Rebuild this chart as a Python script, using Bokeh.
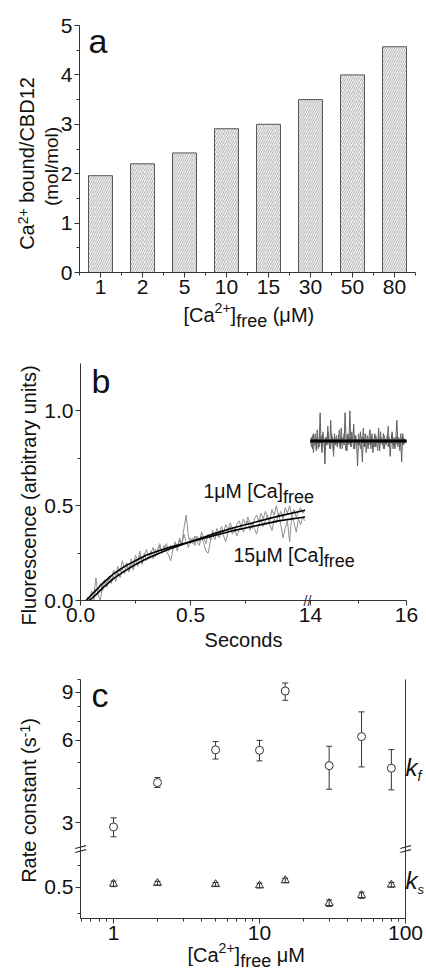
import numpy as np
from bokeh.plotting import figure
from bokeh.layouts import column
from bokeh.models import (ColumnDataSource, FixedTicker, Label, LinearAxis, LogAxis,
                          Range1d, TeeHead, Whisker)
from bokeh.embed import file_html
from bokeh.resources import INLINE

FONT = "Liberation Sans"
INK = "#111111"
AXIS = "#333333"

# ---------------- panel a : Ca2+ bound per CBD12 ----------------
a_categories = ["1", "2", "5", "10", "15", "30", "50", "80"]
a_ca_bound = [1.96, 2.20, 2.42, 2.91, 3.00, 3.50, 4.00, 4.57]
a_yticks = [0, 1, 2, 3, 4, 5]

# ---------------- panel b : fluorescence traces ----------------
b_t_start = 0.03
b_t_step = 0.01
b_trace_1uM = [0.00, 0.01, 0.03, 0.00, 0.06, 0.04, 0.09, 0.05, 0.10, 0.07,
               0.12, 0.09, 0.13, 0.10, 0.15, 0.12, 0.17, 0.14, 0.19, 0.15,
               0.20, 0.16, 0.22, 0.18, 0.24, 0.19, 0.25, 0.21, 0.23, 0.26,
               0.22, 0.27, 0.24, 0.29, 0.25, 0.27, 0.30, 0.26, 0.29, 0.27,
               0.31, 0.28, 0.33, 0.30, 0.38, 0.45, 0.34, 0.30, 0.33, 0.29,
               0.34, 0.31, 0.36, 0.33, 0.30, 0.35, 0.32, 0.37, 0.34, 0.38,
               0.35, 0.39, 0.36, 0.40, 0.37, 0.41, 0.38, 0.36, 0.40, 0.42,
               0.39, 0.43, 0.40, 0.44, 0.41, 0.38, 0.43, 0.45, 0.42, 0.46,
               0.43, 0.47, 0.44, 0.42, 0.48, 0.45, 0.50, 0.44, 0.47, 0.43,
               0.49, 0.46, 0.50, 0.45, 0.48, 0.44, 0.47, 0.49, 0.46, 0.48]
b_trace_15uM = [0.02, 0.00, 0.05, 0.02, 0.12, 0.03, 0.00, 0.08, 0.11, 0.09,
                0.13, 0.10, 0.16, 0.13, 0.18, 0.15, 0.21, 0.17, 0.20, 0.16,
                0.22, 0.19, 0.24, 0.21, 0.26, 0.20, 0.24, 0.27, 0.22, 0.25,
                0.28, 0.23, 0.27, 0.30, 0.25, 0.29, 0.26, 0.24, 0.21, 0.27,
                0.30, 0.26, 0.32, 0.29, 0.35, 0.31, 0.28, 0.33, 0.30, 0.34,
                0.31, 0.29, 0.34, 0.30, 0.26, 0.25, 0.31, 0.35, 0.32, 0.36,
                0.33, 0.37, 0.34, 0.31, 0.36, 0.39, 0.35, 0.38, 0.34, 0.37,
                0.40, 0.36, 0.39, 0.42, 0.37, 0.41, 0.38, 0.35, 0.40, 0.43,
                0.39, 0.42, 0.45, 0.40, 0.37, 0.43, 0.41, 0.46, 0.40, 0.33,
                0.38, 0.42, 0.31, 0.45, 0.41, 0.36, 0.43, 0.40, 0.44, 0.42]
b_fit_1uM_t = [0.04, 0.07, 0.10, 0.15, 0.20, 0.25, 0.30, 0.40, 0.50, 0.60, 0.70, 0.80, 0.90, 1.02]
b_fit_1uM = [0.0, 0.03, 0.065, 0.115, 0.155, 0.19, 0.22, 0.27, 0.31, 0.35, 0.385, 0.415, 0.445, 0.476]
b_fit_15uM_t = [0.025, 0.05, 0.10, 0.15, 0.20, 0.30, 0.40, 0.50, 0.60, 0.70, 0.80, 0.90, 1.02]
b_fit_15uM = [0.0, 0.03, 0.09, 0.14, 0.18, 0.24, 0.28, 0.31, 0.34, 0.37, 0.395, 0.42, 0.44]
b_late_t_start = 14.0
b_late_t_step = 0.02
b_late_1 = [0.83, 0.86, 0.80, 0.88, 0.82, 0.85, 0.79, 0.90, 0.84, 0.81,
            0.99, 0.83, 0.78, 0.87, 0.85, 0.72, 0.86, 0.82, 0.89, 0.84,
            0.80, 0.95, 0.83, 0.86, 0.79, 0.88, 0.82, 0.85, 0.81, 0.87,
            0.84, 0.80, 0.91, 0.83, 0.86, 0.82, 0.99, 0.85, 0.79, 0.88,
            0.83, 1.00, 0.81, 0.86, 0.84, 0.93, 0.80, 0.87, 0.83, 0.71,
            0.85, 0.82, 0.89, 0.84, 0.73, 0.86, 0.81, 0.88, 0.83, 0.85,
            0.80, 0.87, 0.90, 0.82, 0.86, 0.78, 0.84, 0.88, 0.81, 0.85,
            0.83, 0.91, 0.79, 0.86, 0.84, 0.82, 0.88, 0.80, 0.85, 0.83,
            0.87, 0.81, 0.86, 0.76, 0.84, 0.89, 0.82, 0.85, 0.80, 0.87,
            0.95, 0.83, 0.86, 0.81, 0.84, 0.73, 0.88, 0.82, 0.85, 0.83,
            0.84]
b_late_2 = [0.85, 0.81, 0.87, 0.78, 0.84, 0.88, 0.82, 0.86, 0.80, 0.85,
            0.83, 0.87, 0.81, 0.89, 0.84, 0.79, 0.86, 0.82, 0.92, 0.83,
            0.85, 0.80, 0.88, 0.84, 0.76, 0.86, 0.83, 0.87, 0.81, 0.85,
            0.90, 0.82, 0.86, 0.80, 0.84, 0.88, 0.83, 0.79, 0.87, 0.85,
            0.82, 0.86, 0.81, 0.89, 0.84, 0.80, 0.87, 0.83, 0.85, 0.82,
            0.88, 0.84, 0.80, 0.86, 0.83, 0.91, 0.81, 0.85, 0.78, 0.87,
            0.84, 0.82, 0.86, 0.80, 0.88, 0.83, 0.85, 0.81, 0.87, 0.84,
            0.79, 0.86, 0.82, 0.89, 0.83, 0.85, 0.80, 0.87, 0.84, 0.82,
            0.86, 0.92, 0.81, 0.85, 0.83, 0.88, 0.80, 0.86, 0.84, 0.82,
            0.87, 0.81, 0.85, 0.79, 0.88, 0.84, 0.82, 0.86, 0.83, 0.85,
            0.84]
b_late_fit_t = [14.0, 16.0]
b_late_fit_1uM = [0.845, 0.845]
b_late_fit_15uM = [0.838, 0.838]
b_xticks = [0.0, 0.5, 14.0, 16.0]
b_xtick_labels = ["0.0", "0.5", "14", "16"]
b_xminor = [0.25, 0.75, 15.0]
b_yticks = [0.0, 0.5, 1.0]
b_ytick_labels = ["0.0", "0.5", "1.0"]

# ---------------- panel c : rate constants ----------------
c_ca_free = [1, 2, 5, 10, 15, 30, 50, 80]
c_k_fast = [2.90, 4.21, 5.54, 5.52, 9.08, 4.85, 6.19, 4.75]
c_k_fast_hi = [3.13, 4.39, 5.94, 6.00, 9.71, 5.71, 7.62, 5.55]
c_k_fast_lo = [2.67, 4.04, 5.13, 5.05, 8.40, 3.98, 4.80, 3.96]
c_k_slow = [0.515, 0.518, 0.513, 0.508, 0.530, 0.438, 0.468, 0.511]
c_k_slow_err = [0.012, 0.008, 0.008, 0.010, 0.010, 0.012, 0.012, 0.010]
c_xticks = [1, 10, 100]
c_xtick_labels = ["1", "10", "100"]
c_yticks = [3, 6, 9, 0.5]
c_ytick_labels = ["3", "6", "9", "0.5"]
c_yminor = [4, 5, 7, 8, 10, 0.4, 0.6]

# ---------------- helpers ----------------
# Arial / Liberation Sans advance widths (per 1000 em) used to butt text pieces together
_W = {" ": 278, "(": 333, ")": 333, "[": 278, "]": 278, "/": 278, "-": 333, "+": 584,
      "A": 667, "B": 667, "C": 722, "D": 722, "M": 833, "R": 722,
      "a": 556, "b": 556, "c": 500, "d": 556, "e": 556, "f": 278, "i": 222, "l": 222,
      "m": 833, "n": 556, "o": 556, "r": 333, "s": 500, "t": 278, "u": 556, "y": 500,
      "k": 500, "\u03bc": 576}
MID = 0.34  # em distance from the alphabetic baseline up to the em-box middle


def tw(s, size):
    return sum(_W.get(ch, 556) for ch in s) * size / 1000.0


def style_axis(ax):
    ax.axis_line_color = AXIS
    ax.axis_line_width = 1
    ax.major_tick_line_color = AXIS
    ax.minor_tick_line_color = AXIS
    ax.major_tick_out = 5
    ax.major_tick_in = 0
    ax.minor_tick_out = 3
    ax.minor_tick_in = 0
    ax.major_label_text_font = FONT
    ax.major_label_text_font_size = "21px"
    ax.major_label_text_color = INK
    ax.major_label_standoff = 2


def full_range(c0, c1, p0, p1, d0, d1):
    s = (d1 - d0) / (p1 - p0)
    return (d0 + (c0 - p0) * s, d0 + (c1 - p0) * s)


class Panel:
    """A figure whose frame fills the whole canvas; axes are drawn at fixed locations."""

    def __init__(self, canvas, frame, xdom, ydom, xlog=False):
        cx0, cy0, cx1, cy1 = canvas
        L, R, T, B = frame
        self.canvas = canvas
        self.xlog = xlog
        if xlog:
            lx = full_range(cx0, cx1, L, R, np.log10(xdom[0]), np.log10(xdom[1]))
            self.xr = (10 ** lx[0], 10 ** lx[1])
        else:
            self.xr = full_range(cx0, cx1, L, R, xdom[0], xdom[1])
        self.yr = full_range(cy1, cy0, B, T, ydom[0], ydom[1])
        kw = dict(x_axis_type="log") if xlog else {}
        p = figure(width=cx1 - cx0, height=cy1 - cy0,
                   x_range=Range1d(*self.xr), y_range=Range1d(*self.yr),
                   title=None, output_backend="svg", toolbar_location=None,
                   min_border=0, x_axis_location=None, y_axis_location=None, **kw)
        p.grid.visible = False
        p.outline_line_color = None
        p.background_fill_color = "white"
        p.border_fill_color = "white"
        self.p = p

    def at(self, px, py):
        cx0, cy0, cx1, cy1 = self.canvas
        fx = (px - cx0) / (cx1 - cx0)
        fy = (cy1 - py) / (cy1 - cy0)
        if self.xlog:
            l0, l1 = np.log10(self.xr[0]), np.log10(self.xr[1])
            x = 10 ** (l0 + fx * (l1 - l0))
        else:
            x = self.xr[0] + fx * (self.xr[1] - self.xr[0])
        y = self.yr[0] + fy * (self.yr[1] - self.yr[0])
        return float(x), float(y)

    def text(self, px, py, text, size, angle=0.0, align="left", style="normal",
             color=INK, on_baseline=True):
        """(px, py) is a point on the text baseline (page pixels) unless on_baseline=False."""
        if on_baseline:
            if angle:
                px -= MID * size
            else:
                py -= MID * size
        x, y = self.at(px, py)
        self.p.add_layout(Label(x=x, y=y, text=text, text_font=FONT,
                                text_font_size=f"{size}px", text_font_style=style,
                                text_color=color, text_align=align,
                                text_baseline="middle", angle=angle))

    def chain(self, px, py, pieces, vertical=False, style="normal"):
        """pieces: (text, size, raise_px); raise>0 = superscript, <0 = subscript."""
        pos = px if not vertical else py
        for text, size, rise in pieces:
            lead = len(text) - len(text.lstrip(" "))
            step = tw(" " * lead, size)
            body = text.lstrip(" ")
            if vertical:
                pos -= step
                self.text(px - rise, pos, body, size, angle=VERT, style=style)
                pos -= tw(body, size)
            else:
                pos += step
                self.text(pos, py - rise, body, size, style=style)
                pos += tw(body, size)


VERT = np.pi / 2
W_PAGE = 426

# ================= panel a =================
a_x = list(range(1, len(a_categories) + 1))
a_xdom = (0.5, len(a_categories) + 0.5)
a_ydom = (0.0, 5.0)
A = Panel((0, 0, W_PAGE, 334), (79, 415, 25, 272), a_xdom, a_ydom)
pa = A.p
pa.vbar(x=a_x, top=a_ca_bound, width=0.57, bottom=0,
        fill_color="white", line_color="#555555", line_width=1,
        hatch_pattern="/", hatch_color="#8a8a8a", hatch_scale=4.5, hatch_weight=0.8)
ax_ay = LinearAxis(fixed_location=a_xdom[0], bounds=a_ydom,
                   ticker=FixedTicker(ticks=a_yticks,
                                      minor_ticks=[v + 0.5 for v in a_yticks[:-1]]))
ax_ax = LinearAxis(fixed_location=a_ydom[0], bounds=a_xdom,
                   ticker=FixedTicker(ticks=a_x, minor_ticks=[v + 0.5 for v in [0] + a_x]))
ax_ax.major_label_overrides = {int(k): lab for k, lab in zip(a_x, a_categories)}
for ax in (ax_ay, ax_ax):
    style_axis(ax)
pa.add_layout(ax_ay, "left")
pa.add_layout(ax_ax, "below")
A.text(88, 52, "a", 34)
ylab_a = [("Ca", 20, 0), ("2+", 14, 6), (" bound/CBD12", 20, 0)]
A.chain(33, 163 + sum(tw(t, s) for t, s, _ in ylab_a) / 2, ylab_a, vertical=True)
A.text(57, 166, "(mol/mol)", 19, angle=VERT, align="center")
A.chain(183, 321, [("[Ca", 20, 0), ("2+", 14, 9), ("]", 20, 0), ("free", 18, -6),
                   (" (\u03bcM)", 20, 0)])

# ================= panel b =================
B_SEG2_START = 1.045
B_SEG2_SCALE = 0.218


def bx(t):
    t = np.asarray(t, dtype=float)
    return np.where(t < 5, t, B_SEG2_START + (t - 14.0) * B_SEG2_SCALE)


b_t = b_t_start + b_t_step * np.arange(len(b_trace_1uM))
b_late_t = b_late_t_start + b_late_t_step * np.arange(len(b_late_1))
b_xdom = (0.0, float(bx(16.0)))
b_ydom = (0.0, 1.25)
Bp = Panel((0, 334, W_PAGE, 650), (80, 406, 363, 600), b_xdom, b_ydom)
pb = Bp.p
grey = "#8f8f8f"
pb.line(bx(b_t), b_trace_15uM, line_color=grey, line_width=1)
pb.line(bx(b_t), b_trace_1uM, line_color=grey, line_width=1)
pb.line(bx(b_late_t), b_late_2, line_color="#6f6f6f", line_width=1)
pb.line(bx(b_late_t), b_late_1, line_color="#5f5f5f", line_width=1)
pb.line(bx(b_fit_1uM_t), b_fit_1uM, line_color="black", line_width=1.6)
pb.line(bx(b_fit_15uM_t), b_fit_15uM, line_color="black", line_width=1.6)
pb.line(bx(b_late_fit_t), b_late_fit_1uM, line_color="black", line_width=1.8)
pb.line(bx(b_late_fit_t), b_late_fit_15uM, line_color="black", line_width=1.8)
bxt = [float(v) for v in bx(b_xticks)]
ax_bx = LinearAxis(fixed_location=b_ydom[0], bounds=b_xdom,
                   ticker=FixedTicker(ticks=bxt, minor_ticks=[float(v) for v in bx(b_xminor)]))
ax_bx.major_label_overrides = {k: lab for k, lab in zip(bxt, b_xtick_labels)}
ax_by = LinearAxis(fixed_location=b_xdom[0], bounds=b_ydom,
                   ticker=FixedTicker(ticks=b_yticks, minor_ticks=[0.25, 0.75]))
ax_by.major_label_overrides = {float(k): lab for k, lab in zip(b_yticks, b_ytick_labels)}
for ax in (ax_bx, ax_by):
    style_axis(ax)
pb.add_layout(ax_by, "left")
pb.add_layout(ax_bx, "below")
Bp.text(91, 392, "b", 34)
Bp.text(35, 495, "Fluorescence (arbitrary units)", 20, angle=VERT, align="center")
Bp.text(243, 646, "Seconds", 20, align="center")
Bp.text(307, 600, "//", 14, align="center", color=AXIS, on_baseline=False)
Bp.chain(203, 497, [("1\u03bcM [Ca]", 19.5, 0), ("free", 18, -6)])
Bp.chain(233, 561, [("15\u03bcM [Ca]", 19.5, 0), ("free", 18, -6)])

# ================= panel c =================
C_UP_MIN, C_UP_MAX = 2.41, 10.0
C_LO_MIN, C_LO_MAX = 0.385, 0.69
C_SHIFT = np.log10(C_UP_MIN) - np.log10(C_LO_MAX)


def cy(v):
    v = np.asarray(v, dtype=float)
    return np.where(v >= 1.5, np.log10(v), np.log10(v) + C_SHIFT)


c_xdom = (0.594, 100.0)
c_ydom = (float(cy(C_LO_MIN)), float(cy(C_UP_MAX)))
C = Panel((0, 650, W_PAGE, 970), (80, 405, 679, 918), c_xdom, c_ydom, xlog=True)
pc = C.p

src_fast = ColumnDataSource(dict(x=c_ca_free, y=cy(c_k_fast),
                                 upper=cy(c_k_fast_hi), lower=cy(c_k_fast_lo)))
ks = np.array(c_k_slow)
ke = np.array(c_k_slow_err)
src_slow = ColumnDataSource(dict(x=c_ca_free, y=cy(ks), upper=cy(ks + ke), lower=cy(ks - ke)))
for src in (src_fast, src_slow):
    w = Whisker(source=src, base="x", upper="upper", lower="lower", dimension="height",
                line_color=AXIS, line_width=1, level="underlay",
                upper_head=TeeHead(size=6, line_color=AXIS, line_width=1),
                lower_head=TeeHead(size=6, line_color=AXIS, line_width=1))
    pc.add_layout(w)
pc.scatter("x", "y", source=src_fast, marker="circle", size=8,
           fill_color="white", line_color=AXIS, line_width=1)
pc.scatter("x", "y", source=src_slow, marker="triangle", size=8,
           fill_color="white", fill_alpha=0.0, line_color=AXIS, line_width=1)

ax_cx = LogAxis(fixed_location=c_ydom[0], bounds=c_xdom,
                ticker=FixedTicker(ticks=c_xticks,
                                   minor_ticks=[0.6, 0.7, 0.8, 0.9, 2, 3, 4, 5, 6, 7, 8, 9,
                                                20, 30, 40, 50, 60, 70, 80, 90]))
ax_cx.major_label_overrides = {k: lab for k, lab in zip(c_xticks, c_xtick_labels)}
cyt = [float(v) for v in cy(c_yticks)]
ax_cy = LinearAxis(fixed_location=c_xdom[0], bounds=c_ydom,
                   ticker=FixedTicker(ticks=cyt, minor_ticks=[float(v) for v in cy(c_yminor)]))
ax_cy.major_label_overrides = {k: lab for k, lab in zip(cyt, c_ytick_labels)}
for ax in (ax_cx, ax_cy):
    style_axis(ax)
ax_cr = LinearAxis(fixed_location=c_xdom[1], bounds=c_ydom, ticker=FixedTicker(ticks=[]),
                   major_label_text_font_size="0px", axis_line_color=AXIS,
                   major_tick_line_color=None, minor_tick_line_color=None)
pc.add_layout(ax_cy, "left")
pc.add_layout(ax_cx, "below")
pc.add_layout(ax_cr, "right")

C.text(91, 706, "c", 34)
ylab_c = [("Rate constant (s", 20, 0), ("-1", 14, 6), (")", 20, 0)]
C.chain(35, 800 + sum(tw(t, s) for t, s, _ in ylab_c) / 2, ylab_c, vertical=True)
C.chain(187, 961, [("[Ca", 20, 0), ("2+", 14, 9), ("]", 20, 0), ("free", 18, -6),
                   (" \u03bcM", 20, 0)])
C.chain(405, 775, [("k", 24, 0), ("f", 14, -5)], style="italic")
C.chain(405, 888, [("k", 24, 0), ("s", 13, -5)], style="italic")
C.text(80, 848.5, "\\\\", 14, angle=VERT, align="center", color=AXIS, on_baseline=False)
C.text(405, 848.5, "\\\\", 14, angle=VERT, align="center", color=AXIS, on_baseline=False)

layout = column(pa, pb, pc, spacing=0)
open("out.html", "w").write(file_html(layout, INLINE))
